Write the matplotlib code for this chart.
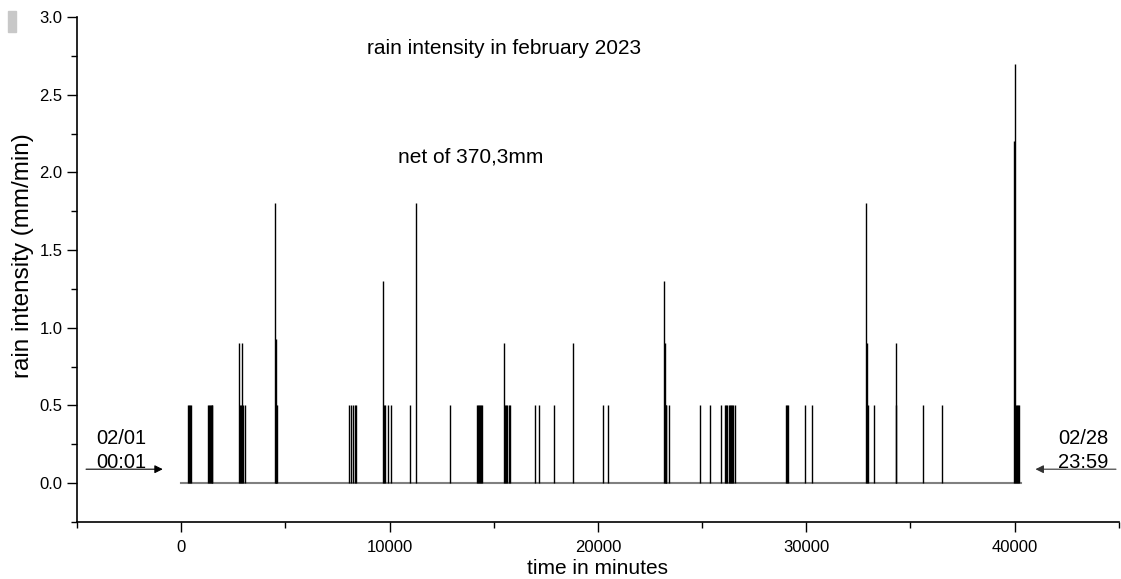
import matplotlib.pyplot as plt
from matplotlib.patches import Rectangle

plt.rcParams['font.family'] = ['Liberation Sans', 'DejaVu Sans']

# rain events: minute of february 2023 and intensity (mm/min)
rain_minutes = [
    336, 384, 432, 480,
    1300, 1340, 1380, 1420, 1460, 1500,
    2785, 2830, 2880, 2930, 2980, 3040,
    4480, 4530, 4560, 4600,
    8065, 8160, 8260, 8320, 8400,
    9700, 9750, 9800, 9925, 10085,
    11000, 11285, 12900,
    14210, 14260, 14310, 14360, 14410, 14450,
    15510, 15560, 15610, 15660, 15710, 15800,
    16965, 17180, 17910, 18790,
    20250, 20470,
    23160, 23200, 23250, 23290, 23400,
    24920, 25370, 25930,
    26120, 26170, 26220, 26270, 26320, 26370, 26420, 26470, 26570,
    29050, 29100, 29140,
    29950, 30270,
    32850, 32900, 32950, 33245,
    34290, 34320,
    35620, 36500,
    39970, 40000, 40050, 40100, 40150, 40210,
]
rain_values = [
    0.5, 0.5, 0.5, 0.5,
    0.5, 0.5, 0.5, 0.5, 0.5, 0.5,
    0.9, 0.5, 0.5, 0.9, 0.5, 0.5,
    1.8, 0.93, 0.5, 0.5,
    0.5, 0.5, 0.5, 0.5, 0.5,
    1.3, 0.5, 0.5, 0.5, 0.5,
    0.5, 1.8, 0.5,
    0.5, 0.5, 0.5, 0.5, 0.5, 0.5,
    0.9, 0.5, 0.5, 0.5, 0.5, 0.5,
    0.5, 0.5, 0.5, 0.9,
    0.5, 0.5,
    1.3, 0.9, 0.5, 0.5, 0.5,
    0.5, 0.5, 0.5,
    0.5, 0.5, 0.5, 0.5, 0.5, 0.5, 0.5, 0.5, 0.5,
    0.5, 0.5, 0.5,
    0.5, 0.5,
    1.8, 0.9, 0.5, 0.5,
    0.9, 0.5,
    0.5, 0.5,
    2.2, 2.7, 0.5, 0.5, 0.5, 0.5,
]
month_start = 0
month_end = 40320

fig = plt.figure(figsize=(11.21, 5.79), dpi=100)
ax = fig.add_axes([0.0687, 0.0984, 0.9293, 0.8722])

ax.plot([month_start, month_end], [0, 0], color='#808080', lw=1.5, zorder=1)
ax.vlines(rain_minutes, 0, rain_values, color='black', lw=1.0, zorder=2)

ax.set_xlim(-5000, 45000)
ax.set_ylim(-0.25, 3.0)
ax.set_xticks([0, 10000, 20000, 30000, 40000])
ax.set_xticks(range(-5000, 45001, 5000), minor=True)
ax.set_yticks([0.0, 0.5, 1.0, 1.5, 2.0, 2.5, 3.0])
ax.set_yticks([-0.25 + 0.25 * i for i in range(14)], minor=True)
ax.set_yticklabels(['0.0', '0.5', '1.0', '1.5', '2.0', '2.5', '3.0'])
ax.tick_params(which='major', direction='out', length=7, width=1, labelsize=12)
ax.tick_params(axis='x', which='major', pad=6)
ax.tick_params(which='minor', direction='out', length=4, width=1)
ax.spines['top'].set_visible(False)
ax.spines['right'].set_visible(False)
ax.spines['left'].set_linewidth(1.2)
ax.spines['bottom'].set_linewidth(1.2)

ax.set_xlabel('time in minutes', fontsize=15, labelpad=3)
ax.set_ylabel('rain intensity (mm/min)', fontsize=17.5)
ax.yaxis.set_label_coords(-0.041, 0.527)

ax.text(15500, 2.80, 'rain intensity in february 2023', ha='center', va='center', fontsize=15)
ax.text(13900, 2.10, 'net of 370,3mm', ha='center', va='center', fontsize=15)

ax.text(-2856, 0.29, '02/01', ha='center', va='center', fontsize=14.5)
ax.text(-2856, 0.135, '00:01', ha='center', va='center', fontsize=14.5)
ax.annotate('', xy=(-750, 0.09), xytext=(-4700, 0.09),
            arrowprops=dict(arrowstyle='-|>', color='black', lw=0.8, mutation_scale=12))

ax.text(43300, 0.29, '02/28', ha='center', va='center', fontsize=14.5)
ax.text(43300, 0.135, '23:59', ha='center', va='center', fontsize=14.5)
ax.annotate('', xy=(40870, 0.09), xytext=(45000, 0.09),
            arrowprops=dict(arrowstyle='-|>', color='#333333', lw=0.8, mutation_scale=12),
            annotation_clip=False)

fig.patches.append(Rectangle((8 / 1121, 1 - 32 / 579), 8 / 1121, 21 / 579,
                             transform=fig.transFigure, color='#c8c8c8'))

fig.savefig('out.png', dpi=100)
